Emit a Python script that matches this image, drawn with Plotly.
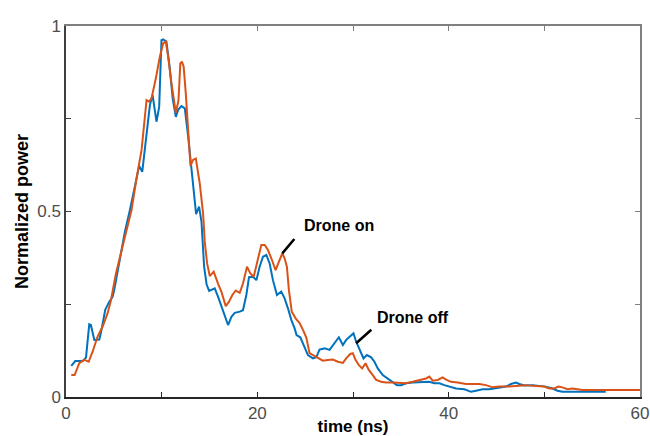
import plotly.graph_objects as go

# Drone off (blue)
t_off = [0.55, 0.97, 1.74, 2.09, 2.43, 2.6, 2.96, 3.48, 3.65, 4.1, 4.52, 4.87, 5.04, 5.22, 5.57,
         5.8, 6.16, 6.68, 7.03, 7.37, 7.65, 7.97, 8.17, 8.59, 8.77, 9.05, 9.18, 9.46, 9.74, 9.98,
         10.15, 10.5, 10.85, 11.15, 11.48, 11.72, 12.07, 12.42, 12.77, 13.11, 13.36, 13.6, 13.91,
         14.16, 14.44, 14.7, 14.96, 15.25, 15.55, 15.9, 16.42, 16.94, 17.29, 17.64, 18.16, 18.5,
         18.85, 19.13, 19.55, 19.9, 20.24, 20.59, 20.94, 21.29, 21.63, 22.05, 22.5, 22.85, 23.2,
         23.55, 23.9, 24.1, 24.49, 24.84, 25.29, 25.81, 26.16, 26.5, 27.03, 27.55, 27.9, 28.17,
         28.52, 28.94, 29.29, 29.71, 30.05, 30.33, 30.68, 31.1, 31.44, 31.9, 32.24, 32.59, 33.11,
         33.63, 34.15, 34.6, 35.03, 35.55, 36.24, 36.77, 37.29, 37.98, 38.5, 39.03, 39.55, 40.07,
         40.77, 41.64, 42.34, 42.86, 43.55, 44.24, 44.94, 45.29, 45.99, 46.51, 47.03, 47.38, 47.9,
         48.77, 49.46, 50.16, 50.85, 51.37, 51.9, 52.59, 53.46, 54.33, 55.38, 56.42]
p_off = [0.084, 0.097, 0.097, 0.106, 0.196, 0.194, 0.154, 0.155, 0.173, 0.235, 0.257, 0.27, 0.288,
         0.315, 0.36, 0.40, 0.446, 0.504, 0.549, 0.594, 0.623, 0.607, 0.648, 0.747, 0.787, 0.814,
         0.787, 0.742, 0.782, 0.962, 0.964, 0.958, 0.885, 0.805, 0.755, 0.774, 0.784, 0.778, 0.702,
         0.615, 0.548, 0.493, 0.513, 0.473, 0.351, 0.303, 0.286, 0.29, 0.293, 0.27, 0.234, 0.194,
         0.216, 0.227, 0.23, 0.234, 0.275, 0.323, 0.324, 0.315, 0.351, 0.378, 0.383, 0.36, 0.315,
         0.275, 0.284, 0.266, 0.239, 0.208, 0.185, 0.167, 0.161, 0.14, 0.113, 0.104, 0.107, 0.128,
         0.131, 0.127, 0.14, 0.149, 0.161, 0.14, 0.154, 0.164, 0.172, 0.149, 0.127, 0.104, 0.113,
         0.107, 0.095, 0.077, 0.059, 0.05, 0.041, 0.032, 0.032, 0.037, 0.039, 0.039, 0.04, 0.041,
         0.037, 0.037, 0.032, 0.028, 0.023, 0.021, 0.014, 0.017, 0.021, 0.021, 0.023, 0.024, 0.028,
         0.035, 0.039, 0.035, 0.031, 0.032, 0.03, 0.028, 0.023, 0.017, 0.014, 0.014, 0.012, 0.013,
         0.013, 0.014]

# Drone on (orange)
t_on = [0.55, 0.9, 1.39, 1.91, 2.37, 2.78, 3.3, 3.83, 4.35, 4.7, 5.22, 5.74, 6.19, 6.85, 7.37,
        7.9, 8.42, 8.69, 8.94, 9.11, 9.39, 9.81, 10.15, 10.43, 10.68, 11.03, 11.48, 11.76, 11.95,
        12.12, 12.3, 12.52, 12.77, 13.01, 13.28, 13.57, 13.98, 14.33, 14.5, 14.75, 15.03, 15.44,
        15.9, 16.24, 16.7, 17.04, 17.39, 17.74, 18.16, 18.5, 18.92, 19.27, 19.62, 19.97, 20.42,
        20.77, 21.11, 21.46, 21.91, 22.26, 22.61, 22.85, 23.09, 23.3, 23.6, 24.0, 24.42, 24.77,
        25.12, 25.46, 25.81, 26.33, 26.85, 27.37, 27.9, 28.42, 28.94, 29.29, 29.71, 29.98, 30.26,
        30.61, 30.96, 31.31, 31.65, 32.07, 32.42, 32.94, 33.46, 34.15, 34.85, 35.55, 36.24, 36.94,
        37.63, 37.98, 38.33, 38.85, 39.37, 39.72, 40.24, 40.94, 41.81, 43.2, 43.9, 44.59, 45.29,
        46.33, 47.38, 48.07, 48.77, 49.46, 49.98, 50.51, 51.03, 51.48, 51.9, 52.42, 52.94, 53.46,
        53.98, 54.68, 60.0]
p_on = [0.059, 0.059, 0.091, 0.1, 0.095, 0.122, 0.163, 0.19, 0.226, 0.261, 0.333, 0.388, 0.442,
        0.504, 0.589, 0.666, 0.8, 0.796, 0.805, 0.823, 0.859, 0.917, 0.953, 0.958, 0.917, 0.845,
        0.766, 0.8, 0.899, 0.904, 0.89, 0.819, 0.702, 0.623, 0.639, 0.643, 0.576, 0.495, 0.42,
        0.36, 0.326, 0.338, 0.305, 0.284, 0.245, 0.257, 0.275, 0.287, 0.281, 0.306, 0.351, 0.333,
        0.324, 0.36, 0.41, 0.41, 0.396, 0.374, 0.342, 0.365, 0.387, 0.374, 0.351, 0.288, 0.23,
        0.212, 0.199, 0.181, 0.16, 0.118, 0.113, 0.104, 0.098, 0.1, 0.101, 0.095, 0.092, 0.104,
        0.116, 0.118, 0.1, 0.086, 0.077, 0.091, 0.073, 0.059, 0.046, 0.041, 0.039, 0.039, 0.037,
        0.037, 0.041, 0.046, 0.05, 0.055, 0.044, 0.046, 0.053, 0.047, 0.041, 0.039, 0.035, 0.035,
        0.032, 0.026, 0.028, 0.028, 0.03, 0.032, 0.03, 0.03, 0.028, 0.023, 0.023, 0.028, 0.026,
        0.021, 0.023, 0.021, 0.019, 0.019, 0.019]

x_ticks = [0, 10, 20, 30, 40, 50, 60]
x_tick_text = ["0", "", "20", "", "40", "", "60"]
y_ticks = [0, 0.25, 0.5, 0.75, 1]
y_tick_text = ["0", "", "0.5", "", "1"]

BLUE = "#0072BD"
ORANGE = "#D95319"

fig = go.Figure()
fig.add_trace(go.Scatter(x=t_off, y=p_off, mode="lines", name="Drone off",
                         line=dict(color=BLUE, width=2)))
fig.add_trace(go.Scatter(x=t_on, y=p_on, mode="lines", name="Drone on",
                         line=dict(color=ORANGE, width=2)))

tickfont = dict(family="Liberation Sans, Arial, sans-serif", size=17, color="#4d4d4d")

fig.update_layout(
    width=650, height=436,
    margin=dict(l=66, r=10, t=26, b=39, autoexpand=False),
    paper_bgcolor="white", plot_bgcolor="white",
    showlegend=False,
    xaxis=dict(range=[0, 60], tickvals=x_ticks, ticktext=x_tick_text, automargin=False,
               ticklabeloverflow="allow",
               ticks="inside", ticklen=5, tickcolor="#262626",
               showline=True, linecolor="#262626", linewidth=1.5,
               showgrid=False, zeroline=False, tickfont=tickfont,
               title=dict(text="<b>time (ns)</b>", standoff=2,
                          font=dict(family="Liberation Sans, Arial, sans-serif", size=17,
                                    color="black"))),
    yaxis=dict(range=[0, 1], tickvals=y_ticks, ticktext=y_tick_text, automargin=False,
               ticks="inside", ticklen=5, tickcolor="#404040",
               showline=True, linecolor="#404040", linewidth=1.5,
               showgrid=False, zeroline=False, tickfont=tickfont,
               title=dict(text="<b>Normalized power</b>", standoff=4,
                          font=dict(family="Liberation Sans, Arial, sans-serif", size=18,
                                    color="black"))),
    xaxis2=dict(range=[0, 60], overlaying="x", side="top", anchor="y", tickvals=x_ticks,
                automargin=False, showticklabels=False, ticks="inside", ticklen=5,
                tickcolor="#808080", showline=True, linecolor="#808080", linewidth=1.5,
                showgrid=False, zeroline=False),
    yaxis2=dict(range=[0, 1], overlaying="y", side="right", anchor="x", tickvals=y_ticks,
                automargin=False, showticklabels=False, ticks="inside", ticklen=5,
                tickcolor="#808080", showline=True, linecolor="#808080", linewidth=1.5,
                showgrid=False, zeroline=False),
)

# invisible traces to anchor the secondary (frame) axes
fig.add_trace(go.Scatter(x=[None], y=[None], xaxis="x2", yaxis="y", showlegend=False,
                         hoverinfo="skip"))
fig.add_trace(go.Scatter(x=[None], y=[None], xaxis="x", yaxis="y2", showlegend=False,
                         hoverinfo="skip"))

annfont = dict(family="Liberation Sans, Arial, sans-serif", size=16, color="black")
fig.add_annotation(x=28.5, y=0.461, text="<b>Drone on</b>", showarrow=False, font=annfont)
fig.add_annotation(x=36.3, y=0.213, text="<b>Drone off</b>", showarrow=False, font=annfont)
fig.add_annotation(x=22.61, y=0.387, ax=24.0, ay=0.430, axref="x", ayref="y", text="",
                   showarrow=True, arrowhead=0, arrowwidth=2.5, arrowcolor="black")
fig.add_annotation(x=30.33, y=0.145, ax=32.07, ay=0.185, axref="x", ayref="y", text="",
                   showarrow=True, arrowhead=0, arrowwidth=2.5, arrowcolor="black")

# remove the default page margin so the 650x436 figure fills the window exactly
fig.write_html("out.html", config={"displayModeBar": False},
               post_script="document.body.style.margin='0';"
                           "document.body.style.overflow='hidden';")
